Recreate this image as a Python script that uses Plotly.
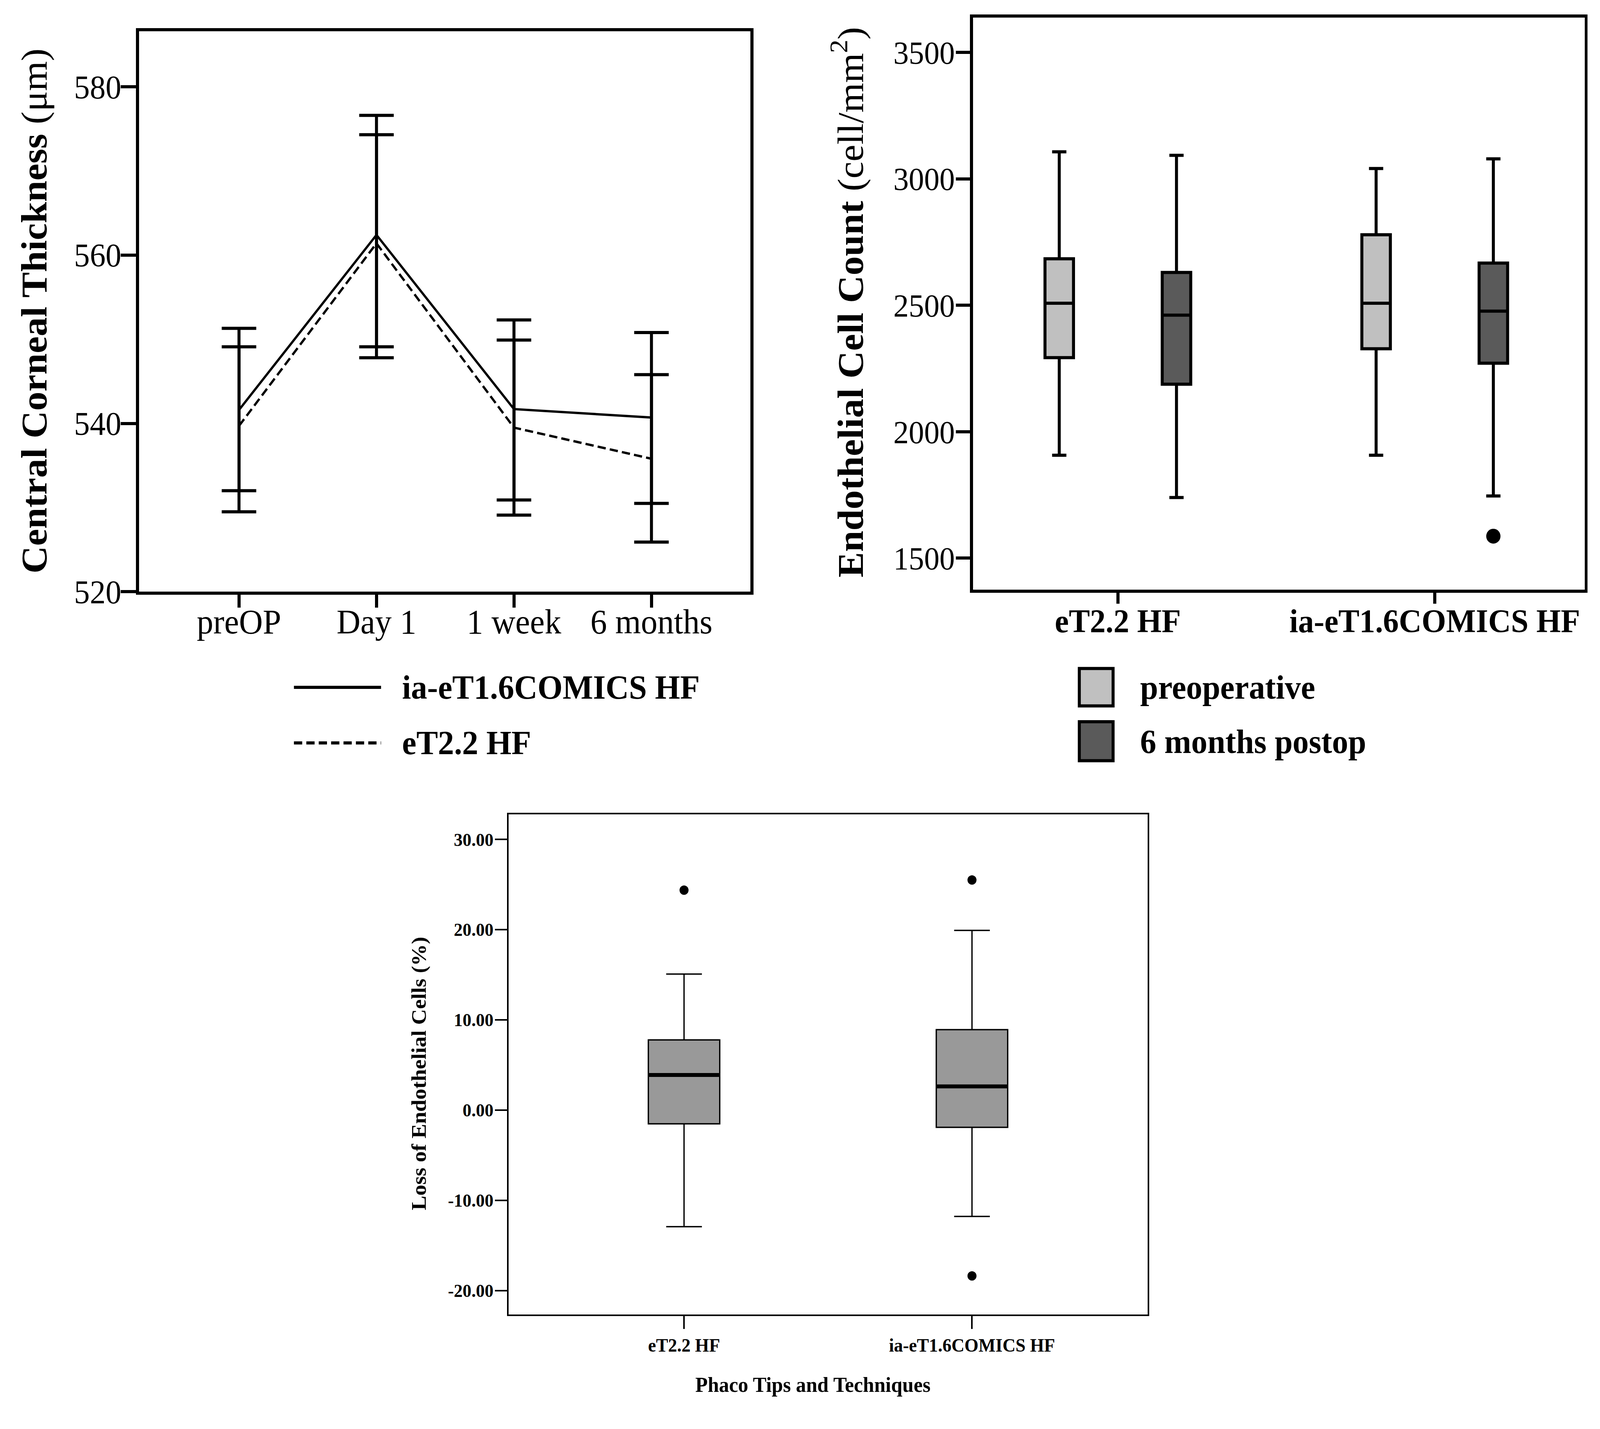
import plotly.graph_objects as go

W, H = 4262, 3657
FONT = "Liberation Serif"

# ---------------- Panel 1 data: Central corneal thickness ----------------
timepoints = ["preOP", "Day 1", "1 week", "6 months"]
ia_mean = [541.6, 562.4, 541.7, 540.7]
ia_upper = [551.3, 576.6, 552.3, 550.8]
ia_lower = [532.0, 547.8, 530.9, 530.5]
et_mean = [539.7, 561.4, 539.5, 535.8]
et_upper = [549.1, 574.3, 549.9, 545.8]
et_lower = [529.5, 549.1, 529.1, 525.9]
cct_ticks = [520, 540, 560, 580]

# ---------------- Panel 2 data: endothelial cell count ----------------
groups = ["eT2.2 HF", "ia-eT1.6COMICS HF"]
pre_low = [1907, 1907]
pre_q1 = [2293, 2328]
pre_med = [2508, 2508]
pre_q3 = [2684, 2779]
pre_high = [3107, 3041]
post_low = [1740, 1746]
post_q1 = [2188, 2271]
post_med = [2461, 2477]
post_q3 = [2630, 2667]
post_high = [3093, 3079]
post_outlier_group = [1]
post_outlier_value = [1587]
ecc_ticks = [1500, 2000, 2500, 3000, 3500]

# ---------------- Panel 3 data: loss of endothelial cells ----------------
loss_low = [-12.93, -11.79]
loss_q1 = [-1.53, -1.92]
loss_med = [3.89, 2.62]
loss_q3 = [7.77, 8.91]
loss_high = [15.07, 19.91]
loss_outlier_group = [0, 1, 1]
loss_outlier_value = [24.37, 25.5, -18.38]
loss_ticks = [-20, -10, 0, 10, 20, 30]
loss_ticktext = ["-20.00", "-10.00", "0.00", "10.00", "20.00", "30.00"]


def px_x(p):
    return p / W


def px_y(p):
    return 1 - p / H


fig = go.Figure()

# ---- Panel 1 traces
fig.add_trace(go.Scatter(
    x=timepoints, y=ia_mean, mode="lines", xaxis="x", yaxis="y",
    line=dict(color="black", width=6),
    error_y=dict(type="data", symmetric=False,
                 array=[u - m for u, m in zip(ia_upper, ia_mean)],
                 arrayminus=[m - l for m, l in zip(ia_mean, ia_lower)],
                 color="black", thickness=8, width=46),
    name="ia-eT1.6COMICS HF", showlegend=False))
fig.add_trace(go.Scatter(
    x=timepoints, y=et_mean, mode="lines", xaxis="x", yaxis="y",
    line=dict(color="black", width=6, dash="22px,11px"),
    error_y=dict(type="data", symmetric=False,
                 array=[u - m for u, m in zip(et_upper, et_mean)],
                 arrayminus=[m - l for m, l in zip(et_mean, et_lower)],
                 color="black", thickness=8, width=46),
    name="eT2.2 HF", showlegend=False))

# ---- Panel 2 traces
OFF2 = 0.185
BW2 = 0.09
pre_pos = [i - OFF2 for i in range(len(groups))]
post_pos = [i + OFF2 for i in range(len(groups))]
fig.add_trace(go.Box(
    x=pre_pos, q1=pre_q1, median=pre_med, q3=pre_q3,
    lowerfence=pre_low, upperfence=pre_high, width=BW2,
    xaxis="x2", yaxis="y2", fillcolor="#c0c0c0",
    line=dict(color="black", width=8), whiskerwidth=0.5,
    boxpoints=False, name="preoperative", showlegend=False))
fig.add_trace(go.Box(
    x=post_pos, q1=post_q1, median=post_med, q3=post_q3,
    lowerfence=post_low, upperfence=post_high, width=BW2,
    xaxis="x2", yaxis="y2", fillcolor="#5a5a5a",
    line=dict(color="black", width=8), whiskerwidth=0.5,
    boxpoints=False, name="6 months postop", showlegend=False))
fig.add_trace(go.Scatter(
    x=[g + OFF2 for g in post_outlier_group], y=post_outlier_value,
    mode="markers", xaxis="x2", yaxis="y2",
    marker=dict(color="black", size=38), showlegend=False))

# ---- Panel 3 traces
BW3 = 0.248
pos3 = list(range(len(groups)))
fig.add_trace(go.Box(
    x=pos3, q1=loss_q1, median=loss_med, q3=loss_q3,
    lowerfence=loss_low, upperfence=loss_high, width=BW3,
    xaxis="x3", yaxis="y3", fillcolor="#999999",
    line=dict(color="black", width=3.5), whiskerwidth=0.5,
    boxpoints=False, showlegend=False))
med_x, med_y = [], []
for p, m in zip(pos3, loss_med):
    med_x += [p - BW3 / 2, p + BW3 / 2, None]
    med_y += [m, m, None]
fig.add_trace(go.Scatter(
    x=med_x, y=med_y, mode="lines", xaxis="x3", yaxis="y3",
    line=dict(color="black", width=10), showlegend=False))
fig.add_trace(go.Scatter(
    x=loss_outlier_group, y=loss_outlier_value, mode="markers",
    xaxis="x3", yaxis="y3", marker=dict(color="black", size=24),
    showlegend=False))

axis_common = dict(showline=True, mirror=True, linecolor="black",
                   ticks="outside", tickcolor="black", showgrid=False,
                   zeroline=False)

fig.update_layout(
    width=W, height=H, margin=dict(l=0, r=0, t=0, b=0),
    paper_bgcolor="white", plot_bgcolor="white",
    font=dict(family=FONT, color="black"),
    showlegend=False,
    xaxis=dict(**axis_common, domain=[px_x(370), px_x(1999)],
               range=[-0.728, 3.72], type="category",
               linewidth=8, ticklen=33, tickwidth=8, ticklabelstandoff=-40,
               tickfont=dict(size=88, family=FONT), anchor="y"),
    yaxis=dict(**axis_common, domain=[px_y(1534), px_y(81)],
               range=[520, 586.6], tickvals=cct_ticks,
               linewidth=8, ticklen=40, tickwidth=8, ticklabelstandoff=-18,
               tickfont=dict(size=84, family=FONT), anchor="x"),
    xaxis2=dict(**axis_common, domain=[px_x(2592), px_x(4221)],
                range=[-0.457, 1.473], tickvals=[0, 1], ticktext=groups,
                linewidth=8, ticklen=28, tickwidth=8, ticklabelstandoff=-28,
                tickfont=dict(size=84, family=FONT, weight="bold"),
                anchor="y2"),
    yaxis2=dict(**axis_common, domain=[px_y(1529), px_y(46)],
                range=[1375, 3637], tickvals=ecc_ticks,
                linewidth=8, ticklen=38, tickwidth=8, ticklabelstandoff=-14,
                tickfont=dict(size=82, family=FONT), anchor="x2"),
    xaxis3=dict(**axis_common, domain=[px_x(1355), px_x(3057)],
                range=[-0.609, 1.610], tickvals=[0, 1], ticktext=groups,
                linewidth=4, ticklen=33, tickwidth=4,
                tickfont=dict(size=48, family=FONT, weight="bold"),
                anchor="y3"),
    yaxis3=dict(**axis_common, domain=[px_y(3408), px_y(2111)],
                range=[-22.67, 32.78], tickvals=loss_ticks,
                ticktext=loss_ticktext, ticklabelstandoff=-6,
                linewidth=4, ticklen=33, tickwidth=4,
                tickfont=dict(size=47, family=FONT, weight="bold"),
                anchor="x3"),
)

annotations = [
    dict(text="<b>Central Corneal Thickness</b> (μm)", x=px_x(90), y=px_y(806),
         textangle=-90, font=dict(size=98)),
    dict(text="<b>Endothelial Cell Count</b> (cell/mm<sup>2</sup>)",
         x=px_x(2258), y=px_y(784), textangle=-90, font=dict(size=98)),
    dict(text="<b>Loss of Endothelial Cells (%)</b>", x=px_x(1115),
         y=px_y(2783), textangle=-90, font=dict(size=56)),
    dict(text="<b>Phaco Tips and Techniques</b>", x=px_x(2165), y=px_y(3590),
         font=dict(size=54)),
    dict(text="<b>ia-eT1.6COMICS HF</b>", x=px_x(1069), y=px_y(1782),
         xanchor="left", font=dict(size=86)),
    dict(text="<b>eT2.2 HF</b>", x=px_x(1069), y=px_y(1926),
         xanchor="left", font=dict(size=86)),
    dict(text="<b>preoperative</b>", x=px_x(3035), y=px_y(1782),
         xanchor="left", font=dict(size=86)),
    dict(text="<b>6 months postop</b>", x=px_x(3035), y=px_y(1923),
         xanchor="left", font=dict(size=86)),
]
for a in annotations:
    a.setdefault("xanchor", "center")
    a.update(xref="paper", yref="paper", showarrow=False, yanchor="middle")
    a["font"].update(family=FONT, color="black")
fig.update_layout(annotations=annotations)

shapes = [
    dict(type="line", x0=px_x(783), x1=px_x(1015), y0=px_y(1782), y1=px_y(1782),
         line=dict(color="black", width=8)),
    dict(type="line", x0=px_x(783), x1=px_x(1015), y0=px_y(1926), y1=px_y(1926),
         line=dict(color="black", width=8, dash="22px,11px")),
    dict(type="rect", x0=px_x(2875), x1=px_x(2965), y0=px_y(1733), y1=px_y(1830),
         fillcolor="#c0c0c0", line=dict(color="black", width=8)),
    dict(type="rect", x0=px_x(2875), x1=px_x(2965), y0=px_y(1871), y1=px_y(1972),
         fillcolor="#5a5a5a", line=dict(color="black", width=8)),
]
for s in shapes:
    s.update(xref="paper", yref="paper")
fig.update_layout(shapes=shapes)

# Fit the 4262x3657 design exactly into whatever viewport the browser has.
post = """
var gd = document.getElementById('{plot_id}');
document.documentElement.style.margin = '0';
document.documentElement.style.overflow = 'hidden';
document.body.style.margin = '0';
document.body.style.overflow = 'hidden';
var sx = window.innerWidth / %d, sy = window.innerHeight / %d;
gd.style.transformOrigin = '0 0';
gd.style.transform = 'scale(' + sx + ',' + sy + ')';
""" % (W, H)

fig.write_html("out.html", post_script=post,
               config={"displayModeBar": False})
